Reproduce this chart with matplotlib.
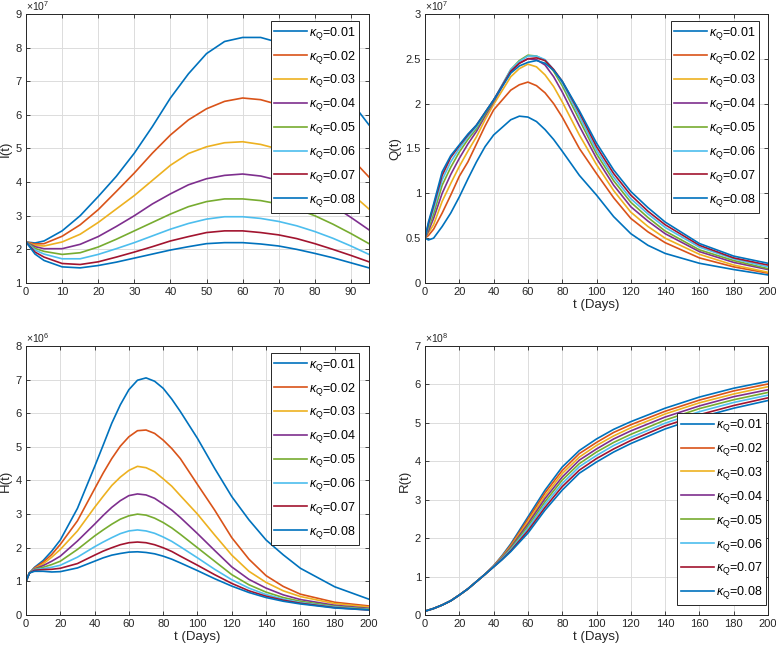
import numpy as np
import matplotlib
matplotlib.use('Agg')
import matplotlib.pyplot as plt
from matplotlib.ticker import FuncFormatter, MultipleLocator

plt.rcParams['font.family'] = ['Liberation Sans', 'DejaVu Sans']
plt.rcParams['mathtext.fontset'] = 'custom'
plt.rcParams['mathtext.rm'] = 'Liberation Sans'
plt.rcParams['mathtext.it'] = 'Liberation Sans:italic'

kappa = ['0.01', '0.02', '0.03', '0.04', '0.05', '0.06', '0.07', '0.08']
colors = ['#0072BD', '#D95319', '#EDB120', '#7E2F8E', '#77AC30', '#4DBEEE', '#A2142F', '#0072BD']

# I(t), x1e7
t_I = [0, 2.5, 5, 10, 15, 20, 25, 30, 35, 40, 45, 50, 55, 60, 65, 70, 75, 80, 85, 90, 95]
I_vals = [
    [2.22, 2.19, 2.25, 2.55, 3.0, 3.57, 4.17, 4.86, 5.65, 6.5, 7.22, 7.82, 8.18, 8.3, 8.3, 8.15, 7.9, 7.5, 7.0, 6.4, 5.7],
    [2.22, 2.16, 2.17, 2.39, 2.73, 3.18, 3.72, 4.27, 4.86, 5.4, 5.85, 6.18, 6.4, 6.5, 6.45, 6.3, 6.05, 5.7, 5.25, 4.72, 4.15],
    [2.22, 2.12, 2.1, 2.22, 2.45, 2.8, 3.2, 3.6, 4.05, 4.5, 4.85, 5.05, 5.17, 5.2, 5.12, 4.98, 4.75, 4.45, 4.1, 3.67, 3.2],
    [2.22, 2.08, 2.02, 2.02, 2.15, 2.38, 2.68, 3.0, 3.35, 3.65, 3.92, 4.1, 4.2, 4.24, 4.18, 4.05, 3.85, 3.6, 3.3, 2.95, 2.58],
    [2.22, 2.03, 1.94, 1.85, 1.9, 2.07, 2.3, 2.55, 2.8, 3.05, 3.27, 3.42, 3.5, 3.5, 3.45, 3.35, 3.2, 3.0, 2.75, 2.47, 2.17],
    [2.22, 1.98, 1.86, 1.72, 1.72, 1.85, 2.02, 2.2, 2.4, 2.6, 2.77, 2.9, 2.97, 2.97, 2.92, 2.83, 2.7, 2.53, 2.33, 2.1, 1.85],
    [2.22, 1.92, 1.77, 1.58, 1.55, 1.63, 1.77, 1.92, 2.08, 2.25, 2.38, 2.5, 2.55, 2.55, 2.5, 2.43, 2.32, 2.17, 2.0, 1.82, 1.63],
    [2.22, 1.86, 1.67, 1.48, 1.45, 1.52, 1.62, 1.74, 1.86, 1.98, 2.08, 2.17, 2.2, 2.2, 2.16, 2.1, 2.0, 1.88, 1.75, 1.6, 1.45],
]

# Q(t), x1e7
t_Q = [0, 2, 5, 10, 15, 20, 25, 30, 35, 40, 50, 55, 60, 65, 70, 75, 80, 90, 100, 110, 120, 130, 140, 160, 180, 200]
Q_vals = [
    [0.5, 0.48, 0.5, 0.63, 0.78, 0.96, 1.16, 1.35, 1.52, 1.65, 1.82, 1.86, 1.85, 1.8, 1.71, 1.6, 1.47, 1.2, 0.98, 0.74, 0.55, 0.42, 0.33, 0.22, 0.15, 0.09],
    [0.5, 0.53, 0.6, 0.78, 0.98, 1.19, 1.35, 1.55, 1.75, 1.93, 2.15, 2.21, 2.24, 2.2, 2.12, 2.0, 1.85, 1.5, 1.22, 0.95, 0.72, 0.57, 0.45, 0.28, 0.18, 0.11],
    [0.5, 0.56, 0.65, 0.91, 1.11, 1.3, 1.47, 1.63, 1.82, 1.99, 2.3, 2.39, 2.44, 2.41, 2.32, 2.19, 2.02, 1.65, 1.32, 1.03, 0.79, 0.63, 0.5, 0.32, 0.2, 0.12],
    [0.5, 0.58, 0.72, 1.0, 1.21, 1.39, 1.55, 1.69, 1.86, 2.02, 2.36, 2.45, 2.5, 2.49, 2.43, 2.3, 2.13, 1.75, 1.39, 1.09, 0.85, 0.69, 0.55, 0.35, 0.23, 0.15],
    [0.5, 0.61, 0.77, 1.09, 1.29, 1.46, 1.6, 1.72, 1.88, 2.03, 2.38, 2.48, 2.54, 2.53, 2.48, 2.36, 2.2, 1.82, 1.44, 1.14, 0.9, 0.73, 0.58, 0.37, 0.25, 0.16],
    [0.5, 0.64, 0.82, 1.15, 1.35, 1.5, 1.63, 1.74, 1.9, 2.04, 2.38, 2.47, 2.53, 2.53, 2.49, 2.38, 2.23, 1.86, 1.48, 1.18, 0.94, 0.77, 0.62, 0.4, 0.27, 0.18],
    [0.5, 0.66, 0.86, 1.2, 1.4, 1.53, 1.65, 1.76, 1.9, 2.04, 2.36, 2.45, 2.5, 2.51, 2.48, 2.38, 2.25, 1.9, 1.52, 1.22, 0.98, 0.8, 0.65, 0.42, 0.28, 0.2],
    [0.5, 0.68, 0.88, 1.24, 1.42, 1.54, 1.66, 1.76, 1.9, 2.04, 2.34, 2.42, 2.46, 2.48, 2.45, 2.37, 2.25, 1.92, 1.56, 1.26, 1.02, 0.84, 0.68, 0.44, 0.3, 0.22],
]

# H(t), x1e6
t_H = [0, 2, 5, 10, 15, 20, 30, 40, 45, 50, 55, 60, 65, 70, 75, 80, 85, 90, 100, 110, 120, 130, 140, 150, 160, 180, 200]
H_vals = [
    [1.0, 1.25, 1.42, 1.62, 1.9, 2.23, 3.17, 4.41, 5.05, 5.7, 6.25, 6.7, 6.98, 7.05, 6.95, 6.74, 6.42, 6.05, 5.25, 4.36, 3.52, 2.83, 2.23, 1.79, 1.39, 0.84, 0.47],
    [1.0, 1.25, 1.4, 1.57, 1.8, 2.1, 2.8, 3.75, 4.22, 4.65, 5.02, 5.3, 5.48, 5.5, 5.4, 5.2, 4.95, 4.65, 3.88, 3.12, 2.3, 1.66, 1.17, 0.85, 0.62, 0.38, 0.27],
    [1.0, 1.25, 1.38, 1.52, 1.72, 1.95, 2.5, 3.2, 3.53, 3.85, 4.1, 4.3, 4.42, 4.38, 4.26, 4.05, 3.83, 3.55, 3.0, 2.38, 1.78, 1.3, 0.97, 0.72, 0.55, 0.34, 0.24],
    [1.0, 1.25, 1.37, 1.47, 1.6, 1.75, 2.2, 2.7, 2.96, 3.2, 3.4, 3.55, 3.6, 3.57, 3.47, 3.3, 3.12, 2.9, 2.42, 1.92, 1.43, 1.06, 0.8, 0.6, 0.46, 0.29, 0.2],
    [1.0, 1.25, 1.36, 1.42, 1.5, 1.6, 1.95, 2.35, 2.53, 2.7, 2.85, 2.95, 3.0, 2.97, 2.88, 2.75, 2.59, 2.4, 2.0, 1.6, 1.2, 0.9, 0.68, 0.52, 0.41, 0.26, 0.18],
    [1.0, 1.25, 1.35, 1.38, 1.42, 1.48, 1.72, 2.03, 2.17, 2.3, 2.42, 2.5, 2.53, 2.5, 2.43, 2.32, 2.19, 2.03, 1.7, 1.36, 1.05, 0.8, 0.61, 0.47, 0.37, 0.24, 0.16],
    [1.0, 1.25, 1.33, 1.35, 1.36, 1.39, 1.53, 1.78, 1.9, 2.0, 2.09, 2.15, 2.17, 2.15, 2.09, 2.0, 1.89, 1.75, 1.48, 1.2, 0.94, 0.72, 0.56, 0.44, 0.35, 0.22, 0.15],
    [1.0, 1.25, 1.3, 1.3, 1.28, 1.29, 1.4, 1.6, 1.7, 1.78, 1.83, 1.87, 1.88, 1.86, 1.82, 1.75, 1.66, 1.55, 1.32, 1.08, 0.86, 0.67, 0.52, 0.41, 0.33, 0.21, 0.15],
]

# R(t), x1e8
t_R = [0, 5, 10, 15, 20, 25, 30, 35, 40, 45, 50, 60, 70, 80, 90, 100, 110, 120, 140, 160, 180, 200]
R_vals = [
    [0.1, 0.17, 0.26, 0.37, 0.52, 0.68, 0.87, 1.06, 1.28, 1.55, 1.85, 2.55, 3.25, 3.85, 4.28, 4.58, 4.83, 5.03, 5.38, 5.67, 5.90, 6.08],
    [0.1, 0.17, 0.26, 0.37, 0.52, 0.68, 0.87, 1.06, 1.28, 1.53, 1.82, 2.49, 3.18, 3.76, 4.20, 4.49, 4.75, 4.95, 5.30, 5.59, 5.83, 6.01],
    [0.1, 0.17, 0.26, 0.37, 0.52, 0.68, 0.87, 1.06, 1.27, 1.52, 1.79, 2.43, 3.10, 3.68, 4.11, 4.41, 4.66, 4.87, 5.23, 5.52, 5.75, 5.94],
    [0.1, 0.17, 0.26, 0.37, 0.52, 0.68, 0.87, 1.06, 1.27, 1.50, 1.76, 2.37, 3.03, 3.59, 4.03, 4.32, 4.58, 4.79, 5.15, 5.44, 5.68, 5.86],
    [0.1, 0.17, 0.26, 0.37, 0.52, 0.68, 0.87, 1.06, 1.26, 1.48, 1.73, 2.31, 2.95, 3.51, 3.94, 4.24, 4.49, 4.70, 5.07, 5.37, 5.60, 5.79],
    [0.1, 0.17, 0.26, 0.37, 0.52, 0.68, 0.87, 1.06, 1.26, 1.47, 1.70, 2.25, 2.88, 3.42, 3.86, 4.15, 4.41, 4.62, 4.99, 5.29, 5.53, 5.72],
    [0.1, 0.17, 0.26, 0.37, 0.52, 0.68, 0.87, 1.06, 1.25, 1.45, 1.67, 2.19, 2.80, 3.34, 3.77, 4.07, 4.32, 4.54, 4.92, 5.21, 5.45, 5.65],
    [0.1, 0.17, 0.26, 0.37, 0.52, 0.68, 0.87, 1.06, 1.25, 1.44, 1.65, 2.13, 2.73, 3.25, 3.69, 3.98, 4.24, 4.46, 4.84, 5.14, 5.38, 5.58],
]

panels = [
    # (rect, t, vals, ylabel, exponent, xmax, xstep, ylim, ystep, xlabel?, legend loc, legend anchor)
    ([0.0335, 0.5646, 0.442, 0.414], t_I, I_vals, 'I(t)', '7', 95, 10, (1, 9), 1, False, 'upper right', (0.971, 0.974)),
    ([0.5477, 0.5646, 0.442, 0.414], t_Q, Q_vals, 'Q(t)', '7', 200, 20, (0, 3), 0.5, True, 'upper right', (0.974, 0.974)),
    ([0.0335, 0.0538, 0.442, 0.414], t_H, H_vals, 'H(t)', '6', 200, 20, (0, 8), 1, True, 'upper right', (0.971, 0.974)),
    ([0.5477, 0.0538, 0.442, 0.414], t_R, R_vals, 'R(t)', '8', 200, 20, (0, 7), 1, True, 'lower right', (0.994, 0.037)),
]

axcol = '#262626'
fig = plt.figure(figsize=(7.76, 6.5), dpi=100)
fmt = FuncFormatter(lambda v, p: '%g' % v)

for rect, t, vals, ylab, expo, xmax, xstep, ylim, ystep, has_xlabel, loc, anchor in panels:
    ax = fig.add_axes(rect)
    for i in range(len(kappa)):
        ax.plot(t, vals[i], color=colors[i], lw=1.2, label=r'$\kappa_{\mathrm{Q}}$=' + kappa[i])
    ax.set_xlim(0, xmax)
    ax.set_ylim(*ylim)
    ax.xaxis.set_major_locator(MultipleLocator(xstep))
    ax.yaxis.set_major_locator(MultipleLocator(ystep))
    ax.xaxis.set_major_formatter(fmt)
    ax.yaxis.set_major_formatter(fmt)
    ax.grid(True, color='#dcdcdc', lw=0.7)
    ax.set_axisbelow(True)
    ax.tick_params(direction='in', length=3, width=0.6, colors=axcol, labelsize=8,
                   top=True, right=True, pad=3)
    for s in ax.spines.values():
        s.set_color(axcol)
        s.set_linewidth(0.7)
    ax.set_ylabel(ylab, fontsize=9.5, color=axcol, labelpad=3)
    if has_xlabel:
        ax.set_xlabel('t (Days)', fontsize=9.5, color=axcol, labelpad=1)
    ax.text(0.0, 1.005, r'$\times10^{%s}$' % expo, transform=ax.transAxes,
            fontsize=7.5, color=axcol, va='bottom', ha='left')
    leg = ax.legend(loc=loc, bbox_to_anchor=anchor, borderaxespad=0, fontsize=9,
                    fancybox=False, framealpha=1, edgecolor=axcol, handlelength=2.6,
                    handletextpad=0.15, labelspacing=0.55, borderpad=0.3)
    leg.get_frame().set_linewidth(0.7)

fig.savefig('out.png', dpi=100)
